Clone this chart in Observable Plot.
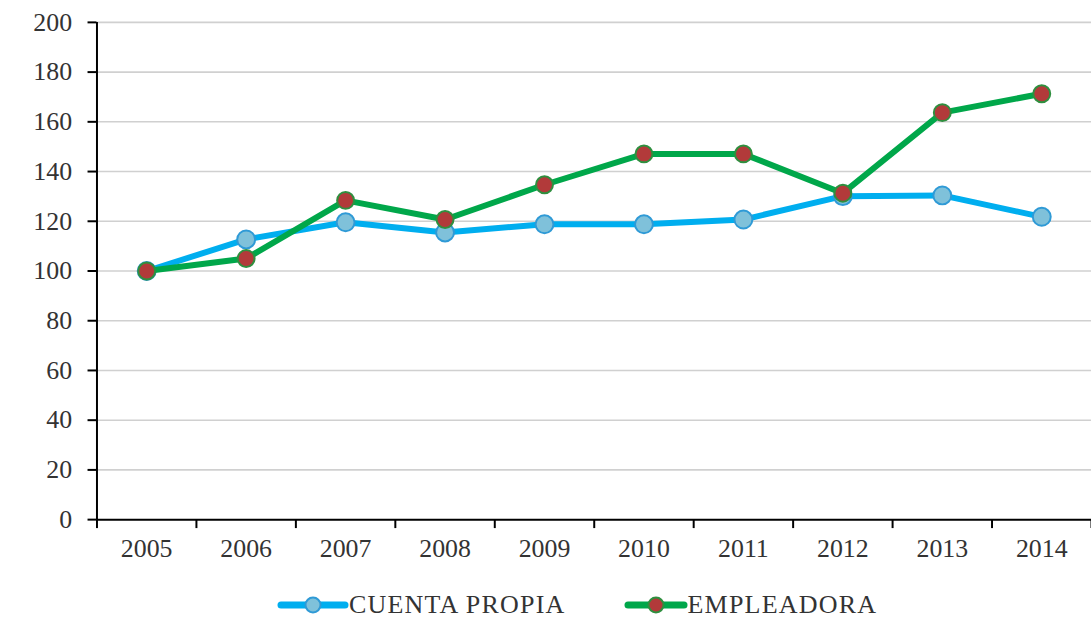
<!DOCTYPE html>
<html>
<head>
<meta charset="utf-8">
<script src="https://cdn.jsdelivr.net/npm/d3@7"></script>
<script src="https://cdn.jsdelivr.net/npm/@observablehq/plot@0.6"></script>
<style>
  html, body { margin: 0; padding: 0; background: #fff; overflow: hidden; }
  #chart svg { display: block; overflow: visible; }
  #chart svg text { font-family: "Liberation Serif", "Tinos", "Times New Roman", serif !important; }
  #legend { display: flex; align-items: center; margin-left: 277px; height: 66px;
    font-family: "Liberation Serif", "Tinos", "Times New Roman", serif; font-size: 26px; color: #333;
    letter-spacing: 1.2px; }
  #legend .item { display: flex; align-items: center; }
  #legend svg { display: block; }
</style>
</head>
<body>
<div id="chart"></div>
<div id="legend"></div>
<script>
const years = [2005, 2006, 2007, 2008, 2009, 2010, 2011, 2012, 2013, 2014];
const cuentaPropia = [100, 112.7, 119.6, 115.5, 118.8, 118.8, 120.7, 130.1, 130.4, 121.8];
const empleadora = [100, 105, 128.4, 120.7, 134.7, 147.1, 147.1, 131.3, 163.7, 171.3];
const yTicks = [0, 20, 40, 60, 80, 100, 120, 140, 160, 180, 200];
const seriesNames = ["CUENTA PROPIA", "EMPLEADORA"];

const styles = {
  "CUENTA PROPIA": {line: "#00aeef", dotFill: "#7fc1da", dotStroke: "#2f9ad6", r: 9, sw: 72},
  "EMPLEADORA": {line: "#00a74a", dotFill: "#b23a3a", dotStroke: "#2f8f3f", r: 8.5, sw: 64}
};

const rowsCP = years.map((y, i) => ({year: y, value: cuentaPropia[i]}));
const rowsEM = years.map((y, i) => ({year: y, value: empleadora[i]}));
const boundaries = years.map(y => y - 0.5).concat([years[years.length - 1] + 0.5]);

const font = `"Liberation Serif", "Tinos", "Times New Roman", serif`;

const plot = Plot.plot({
  width: 1097,
  height: 575,
  marginLeft: 97,
  marginRight: 0,
  marginTop: 22,
  marginBottom: 53,
  style: {fontFamily: font, fontSize: "26px", color: "#333", background: "#fff"},
  x: {domain: [years[0] - 0.5, years[years.length - 1] + 0.5]},
  y: {domain: [0, 200]},
  marks: [
    Plot.gridY(yTicks.filter(t => t > 0), {stroke: "#d0d0d0", strokeOpacity: 1, strokeWidth: 1.6}),
    Plot.axisY({ticks: yTicks, tickSize: 9, tickPadding: 16, tickFormat: d => String(d),
      stroke: "#000", strokeWidth: 2, strokeOpacity: 1, fill: "#333", label: null}),
    Plot.axisX({ticks: boundaries, tickSize: 9, tickFormat: () => "", stroke: "#000",
      strokeWidth: 2, strokeOpacity: 1, label: null}),
    Plot.axisX({ticks: years, tickSize: 0, tickPadding: 19, tickFormat: d => String(d),
      fill: "#333", label: null}),
    Plot.ruleY([0], {stroke: "#000", strokeWidth: 2}),
    Plot.ruleX([years[0] - 0.5], {stroke: "#000", strokeWidth: 2}),
    Plot.line(rowsCP, {x: "year", y: "value", stroke: styles["CUENTA PROPIA"].line, strokeWidth: 6, strokeLinejoin: "round"}),
    Plot.dot(rowsCP, {x: "year", y: "value", r: styles["CUENTA PROPIA"].r, fill: styles["CUENTA PROPIA"].dotFill,
      stroke: styles["CUENTA PROPIA"].dotStroke, strokeWidth: 2}),
    Plot.line(rowsEM, {x: "year", y: "value", stroke: styles["EMPLEADORA"].line, strokeWidth: 6, strokeLinejoin: "round"}),
    Plot.dot(rowsEM, {x: "year", y: "value", r: styles["EMPLEADORA"].r, fill: styles["EMPLEADORA"].dotFill,
      stroke: styles["EMPLEADORA"].dotStroke, strokeWidth: 2})
  ]
});
document.getElementById("chart").appendChild(plot);

// Legend
const legend = d3.select("#legend");
seriesNames.forEach((name, i) => {
  const s = styles[name];
  const item = legend.append("div").attr("class", "item").style("margin-right", i === 0 ? "58px" : "0");
  const sw = item.append("svg").attr("width", s.sw).attr("height", 24);
  sw.append("line").attr("x1", 4).attr("x2", s.sw - 4).attr("y1", 12).attr("y2", 12)
    .attr("stroke", s.line).attr("stroke-width", 7).attr("stroke-linecap", "round");
  sw.append("circle").attr("cx", s.sw / 2).attr("cy", 12).attr("r", 7.5)
    .attr("fill", s.dotFill).attr("stroke", s.dotStroke).attr("stroke-width", 2);
  item.append("span").text(name);
});
</script>
</body>
</html>
